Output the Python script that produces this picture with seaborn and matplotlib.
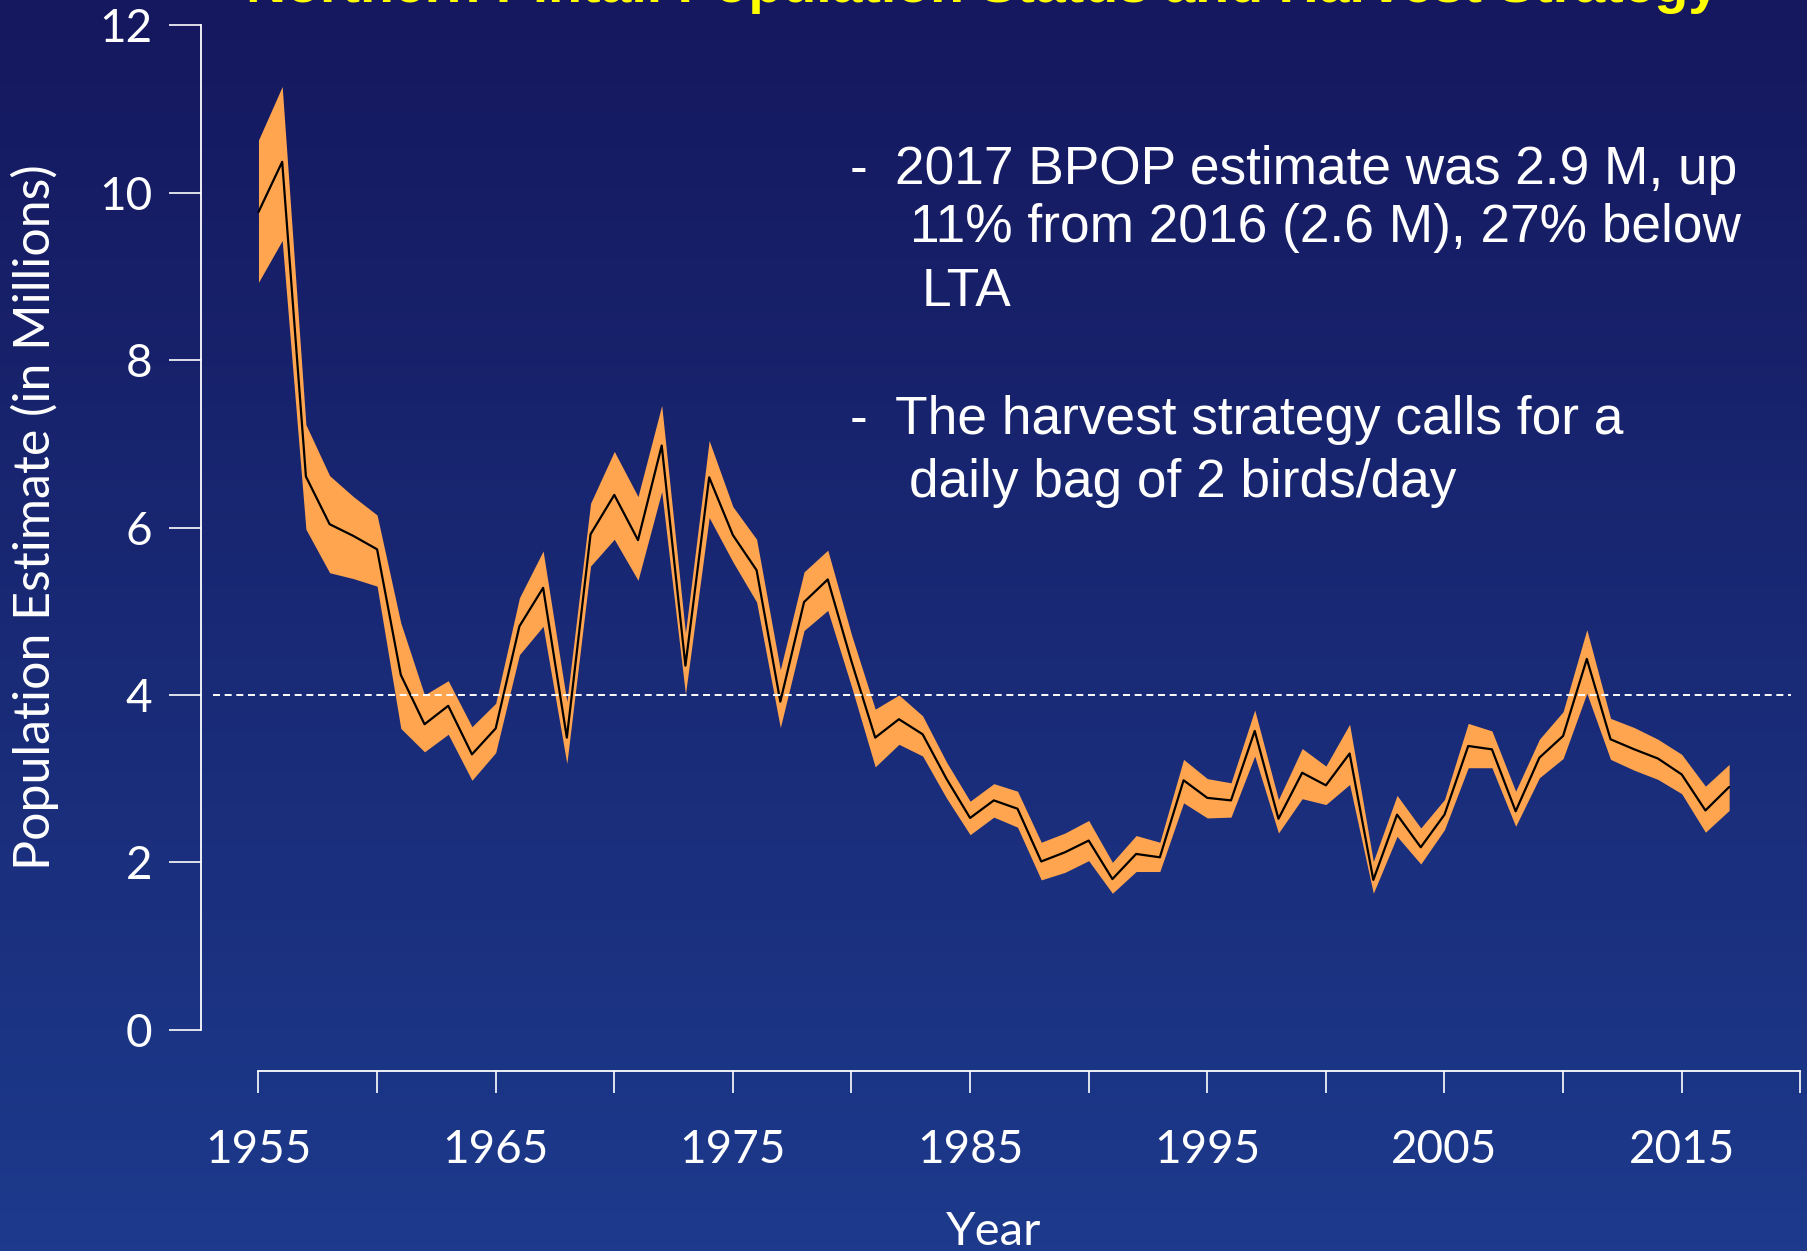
"""Northern pintail breeding population estimate with confidence band."""
import matplotlib
matplotlib.use("Agg")
import matplotlib.pyplot as plt
import numpy as np
import pandas as pd
import seaborn as sns

W, H = 1808, 1251

years = list(range(1955, 2018))
bpop = [9.77, 10.37, 6.61, 6.04, 5.90, 5.74, 4.24, 3.65, 3.87, 3.29,
        3.60, 4.82, 5.28, 3.49, 5.92, 6.39, 5.85, 6.98, 4.35, 6.60,
        5.91, 5.49, 3.92, 5.11, 5.38, 4.40, 3.49, 3.71, 3.53, 3.00,
        2.53, 2.74, 2.64, 2.01, 2.12, 2.26, 1.80, 2.10, 2.06, 2.98,
        2.77, 2.74, 3.57, 2.52, 3.07, 2.92, 3.30, 1.79, 2.57, 2.18,
        2.57, 3.39, 3.35, 2.61, 3.25, 3.51, 4.43, 3.47, 3.35, 3.24,
        3.05, 2.62, 2.90]
upper = [10.63, 11.27, 7.23, 6.62, 6.37, 6.15, 4.86, 4.00, 4.17, 3.62,
         3.90, 5.16, 5.72, 3.92, 6.29, 6.91, 6.37, 7.46, 4.74, 7.04,
         6.25, 5.86, 4.30, 5.47, 5.73, 4.72, 3.83, 4.00, 3.75, 3.20,
         2.73, 2.94, 2.85, 2.24, 2.35, 2.50, 2.00, 2.32, 2.24, 3.23,
         3.00, 2.95, 3.82, 2.75, 3.36, 3.15, 3.65, 2.01, 2.80, 2.41,
         2.75, 3.66, 3.57, 2.85, 3.47, 3.80, 4.78, 3.72, 3.61, 3.47,
         3.29, 2.91, 3.17]
lower = [8.93, 9.43, 5.98, 5.46, 5.39, 5.30, 3.60, 3.32, 3.53, 2.98,
         3.31, 4.48, 4.82, 3.18, 5.54, 5.86, 5.37, 6.43, 4.01, 6.12,
         5.59, 5.11, 3.61, 4.77, 5.01, 4.10, 3.14, 3.41, 3.27, 2.77,
         2.33, 2.54, 2.42, 1.79, 1.88, 2.02, 1.63, 1.89, 1.89, 2.71,
         2.53, 2.54, 3.27, 2.35, 2.76, 2.69, 2.93, 1.63, 2.31, 1.98,
         2.39, 3.13, 3.13, 2.43, 3.01, 3.24, 4.02, 3.23, 3.10, 2.99,
         2.82, 2.36, 2.62]
goal = 4.0

year_ticks = list(range(1955, 2021, 5))
year_labels = [str(y) if (y - 1955) % 10 == 0 else "" for y in year_ticks]
pop_ticks = [0, 2, 4, 6, 8, 10, 12]

title = "Northern Pintail Population Status and Harvest Strategy"
bullet_1 = ["2017 BPOP estimate was 2.9 M, up",
            "11% from 2016 (2.6 M), 27% below",
            "LTA"]
bullet_2 = ["The harvest strategy calls for a",
            "daily bag of 2 birds/day"]

df = pd.DataFrame({"year": years, "bpop": bpop, "upper": upper, "lower": lower})

sns.set_theme(style="white")
plt.rcParams["font.family"] = ["Lato", "DejaVu Sans"]

fig = plt.figure(figsize=(W / 100, H / 100), dpi=100)

# slide background gradient
bg = fig.add_axes([0, 0, 1, 1], zorder=-10)
top = np.array([21, 24, 94]) / 255
bottom = np.array([29, 58, 140]) / 255
t = np.linspace(0, 1, 256)[:, None]
grad = (top * (1 - t) + bottom * t)[:, None, :]
bg.imshow(grad, aspect="auto", extent=[0, 1, 0, 1])
bg.set_axis_off()

ax = fig.add_axes([200.6 / W, (H - 1029.7) / H, (1800.3 - 200.6) / W, (1029.7 - 25.4) / H])
ax.set_facecolor("none")

ax.fill_between(df["year"], df["lower"], df["upper"], color="#FFA54F", lw=0, zorder=2)
sns.lineplot(data=df, x="year", y="bpop", color="black", lw=1.6, ax=ax, zorder=3)
ax.axhline(goal, xmin=0.008, xmax=0.994, color="white", lw=1.4,
           ls=(0, (3.6, 2.4)), zorder=4)

ax.set_xlim(1952.56, 2020)
ax.set_ylim(0, 12)
ax.set_xticks(year_ticks)
ax.set_xticklabels(year_labels)
ax.set_yticks(pop_ticks)

for side in ("top", "right"):
    ax.spines[side].set_visible(False)
for side in ("left", "bottom"):
    ax.spines[side].set_color("white")
    ax.spines[side].set_linewidth(1.3)
ax.spines["bottom"].set_position(("outward", 29.7))
ax.spines["bottom"].set_bounds(1955, 2020)

ax.tick_params(axis="y", direction="out", length=23, width=1.2, color="white",
               labelcolor="white", labelsize=33, pad=12, left=True)
ax.tick_params(axis="x", direction="out", length=16, width=1.2, color="white",
               labelcolor="white", labelsize=33, pad=26, bottom=True)

ax.set_ylabel("Population Estimate (in Millions)", color="white", fontsize=36)
ax.yaxis.set_label_coords((50 - 200.6) / 1599.7, 0.51)
ax.yaxis.label.set_va("baseline")
ax.set_xlabel("Year", color="white", fontsize=34)
ax.xaxis.set_label_coords(0.496, (1029.7 - 1245) / 1004.3)
ax.xaxis.label.set_va("baseline")

# slide title, cut by the top edge as on the slide
fig.text(983 / W, 1 - 2 / H, title, ha="center", va="baseline", fontsize=40,
         fontweight="bold", color="#FFFF00", family=["Liberation Sans", "DejaVu Sans"])

note_kw = dict(color="white", fontsize=38.3, va="baseline",
               family=["Liberation Sans", "DejaVu Sans"])
for xs, ys, line in zip([895, 910, 922], [184, 242, 306], bullet_1):
    fig.text(xs / W, 1 - ys / H, line, **note_kw)
for xs, ys, line in zip([895, 909], [434, 497], bullet_2):
    fig.text(xs / W, 1 - ys / H, line, **note_kw)
for ys in (184, 434):
    fig.text(850 / W, 1 - ys / H, "-", **note_kw)

fig.savefig("out.png", dpi=100)
plt.close(fig)
